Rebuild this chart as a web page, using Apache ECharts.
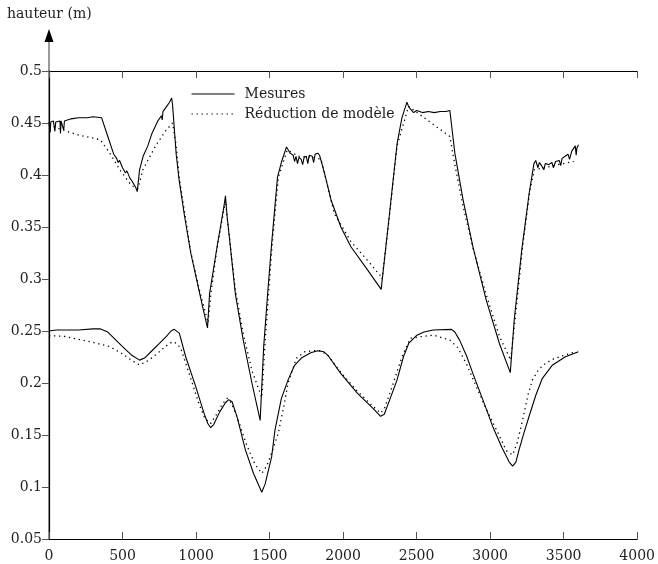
<!DOCTYPE html>
<html>
<head>
<meta charset="utf-8">
<script src="https://cdn.jsdelivr.net/npm/echarts@6/dist/echarts.min.js"></script>
<style>
  html, body { margin: 0; padding: 0; background: #fff; }
  #chartmain { width: 658px; height: 564px; }
</style>
</head>
<body>
<div id="chartmain"></div>
<script>
// axes
var xTicks = [0, 500, 1000, 1500, 2000, 2500, 3000, 3500, 4000];
var yMin = 0.05, yMax = 0.5, yStep = 0.05;
var legendNames = ['Mesures', 'Réduction de modèle'];

// courbe haute - mesures (temps, hauteur)
var mesHaut = [
  [0, 0.451], [8, 0.441], [12, 0.451], [30, 0.452], [40, 0.442], [46, 0.451], [75, 0.452],
  [78, 0.440], [82, 0.452], [95, 0.452], [100, 0.443], [105, 0.452], [115, 0.453], [150, 0.454],
  [200, 0.455], [260, 0.455], [300, 0.456], [358, 0.455],
  [400, 0.437], [440, 0.420], [460, 0.416], [470, 0.412], [480, 0.414], [500, 0.407],
  [520, 0.402], [530, 0.404], [550, 0.397], [565, 0.394], [575, 0.395], [590, 0.388], [600, 0.384],
  [616, 0.405], [640, 0.418], [672, 0.428], [700, 0.440], [740, 0.452], [765, 0.457], [770, 0.453],
  [775, 0.461], [800, 0.466], [820, 0.470], [834, 0.474], [840, 0.468],
  [865, 0.420], [885, 0.395], [920, 0.362], [964, 0.325], [1020, 0.289], [1050, 0.270], [1078, 0.253],
  [1092, 0.286], [1143, 0.331], [1190, 0.370], [1200, 0.380],
  [1210, 0.362], [1267, 0.286], [1320, 0.242], [1380, 0.200], [1436, 0.164],
  [1460, 0.235], [1487, 0.286], [1514, 0.334], [1554, 0.398], [1580, 0.412], [1615, 0.427],
  [1640, 0.421], [1660, 0.419], [1670, 0.413], [1680, 0.418], [1690, 0.411], [1700, 0.417],
  [1715, 0.415], [1725, 0.410], [1735, 0.417], [1750, 0.418], [1760, 0.411], [1770, 0.419],
  [1790, 0.418], [1800, 0.412], [1810, 0.420], [1828, 0.421], [1840, 0.419], [1851, 0.418],
  [1873, 0.402], [1918, 0.376], [1985, 0.350], [2053, 0.331], [2165, 0.309], [2259, 0.290],
  [2311, 0.357], [2367, 0.430], [2400, 0.455], [2434, 0.470], [2445, 0.466], [2460, 0.463],
  [2480, 0.460], [2500, 0.462], [2540, 0.460], [2580, 0.461], [2620, 0.460], [2660, 0.461],
  [2700, 0.461], [2726, 0.462],
  [2760, 0.421], [2816, 0.376], [2883, 0.331], [2973, 0.280], [3063, 0.238], [3137, 0.210],
  [3164, 0.261], [3215, 0.328], [3265, 0.382], [3298, 0.411], [3310, 0.414], [3325, 0.407],
  [3335, 0.412], [3350, 0.409], [3365, 0.405], [3375, 0.411], [3399, 0.410], [3420, 0.412],
  [3430, 0.407], [3445, 0.413], [3470, 0.414], [3480, 0.409], [3489, 0.416], [3510, 0.418],
  [3530, 0.420], [3540, 0.415], [3555, 0.423], [3579, 0.428], [3585, 0.419], [3590, 0.426],
  [3601, 0.429]
];

// courbe haute - réduction de modèle
var modHaut = [
  [0, 0.448], [122, 0.442], [212, 0.438], [347, 0.434], [414, 0.421], [481, 0.405], [560, 0.390],
  [605, 0.387], [638, 0.405], [729, 0.429], [796, 0.443], [840, 0.450], [863, 0.430], [885, 0.398],
  [964, 0.326], [1020, 0.291], [1082, 0.258], [1100, 0.285], [1143, 0.330], [1200, 0.375],
  [1215, 0.355], [1267, 0.290], [1320, 0.248], [1380, 0.212], [1447, 0.186], [1470, 0.240],
  [1495, 0.290], [1520, 0.337], [1560, 0.398], [1620, 0.424], [1700, 0.418], [1800, 0.417],
  [1850, 0.415], [1880, 0.398], [1940, 0.363], [2053, 0.336], [2165, 0.318], [2255, 0.303],
  [2265, 0.300], [2311, 0.355], [2367, 0.428], [2445, 0.466], [2726, 0.437], [2760, 0.410],
  [2816, 0.370], [2883, 0.330], [2973, 0.285], [3063, 0.245], [3140, 0.222], [3170, 0.262],
  [3220, 0.330], [3270, 0.385], [3300, 0.405], [3400, 0.408], [3500, 0.411], [3568, 0.413]
];

// courbe basse - mesures
var mesBas = [
  [0, 0.250], [50, 0.251], [100, 0.251], [200, 0.251], [300, 0.252], [350, 0.252], [400, 0.249],
  [450, 0.242], [500, 0.235], [560, 0.227], [616, 0.222], [650, 0.224], [700, 0.231], [751, 0.238],
  [800, 0.245], [830, 0.250], [852, 0.2516], [886, 0.248], [930, 0.225], [998, 0.1965],
  [1054, 0.171], [1080, 0.161], [1099, 0.157], [1120, 0.160], [1160, 0.172], [1200, 0.181],
  [1222, 0.184], [1245, 0.182], [1280, 0.167], [1335, 0.136], [1391, 0.113], [1447, 0.095],
  [1470, 0.103], [1514, 0.129], [1537, 0.155], [1580, 0.185], [1626, 0.203], [1670, 0.217],
  [1716, 0.224], [1780, 0.229], [1828, 0.231], [1870, 0.230], [1900, 0.226], [1985, 0.209],
  [2098, 0.190], [2200, 0.176], [2255, 0.168], [2280, 0.170], [2320, 0.185], [2367, 0.203],
  [2410, 0.225], [2446, 0.238], [2502, 0.246], [2550, 0.249], [2614, 0.251], [2737, 0.2516],
  [2760, 0.249], [2793, 0.241], [2840, 0.226], [2883, 0.209], [2950, 0.184], [3018, 0.158],
  [3080, 0.138], [3130, 0.124], [3153, 0.120], [3175, 0.124], [3197, 0.136], [3230, 0.152],
  [3265, 0.168], [3310, 0.188], [3355, 0.2045], [3422, 0.217], [3512, 0.2253], [3600, 0.230]
];

// courbe basse - réduction de modèle
var modBas = [
  [0, 0.2455], [100, 0.245], [234, 0.241], [300, 0.239], [414, 0.235], [500, 0.228], [560, 0.222],
  [616, 0.2173], [680, 0.222], [750, 0.230], [800, 0.236], [840, 0.2397], [870, 0.238],
  [897, 0.233], [953, 0.209], [1020, 0.180], [1060, 0.166], [1099, 0.161], [1140, 0.170],
  [1180, 0.180], [1211, 0.1853], [1240, 0.181], [1290, 0.163], [1340, 0.142], [1400, 0.122],
  [1447, 0.113], [1480, 0.120], [1520, 0.135], [1559, 0.1516], [1600, 0.180], [1626, 0.200],
  [1682, 0.2237], [1739, 0.2301], [1800, 0.231], [1850, 0.231], [1900, 0.226], [1985, 0.210],
  [2098, 0.192], [2200, 0.178], [2255, 0.171], [2280, 0.175], [2330, 0.195], [2400, 0.225],
  [2457, 0.243], [2550, 0.245], [2614, 0.246], [2726, 0.2413], [2780, 0.234], [2840, 0.218],
  [2883, 0.204], [2970, 0.176], [3050, 0.153], [3110, 0.135], [3153, 0.1308], [3185, 0.143],
  [3220, 0.164], [3260, 0.190], [3288, 0.203], [3330, 0.213], [3377, 0.219], [3430, 0.223],
  [3489, 0.226], [3579, 0.230]
];

var FONT = 'DejaVu Serif';
var solidStyle = { color: '#000', width: 1.1, type: 'solid' };
var dotStyle = { color: '#000', width: 1.3, type: [1.3, 3.7] };

var mkSeries = function(name, data, style){
  return {
    name: name,
    type: 'line',
    data: data,
    symbol: 'none',
    showSymbol: false,
    silent: true,
    color: '#000',
    lineStyle: style
  };
};

var chart = echarts.init(document.getElementById('chartmain'), null, { renderer: 'canvas' });

var option = {
  animation: false,
  backgroundColor: '#fff',
  textStyle: { fontFamily: FONT },
  grid: { left: 49, right: 15, top: 71, bottom: 25 },
  legend: {
    data: legendNames,
    orient: 'vertical',
    left: 191,
    top: 87,
    padding: 0,
    itemWidth: 43,
    itemHeight: 14,
    itemGap: 6,
    itemStyle: { opacity: 0 },
    lineStyle: { width: 1.1 },
    textStyle: { fontFamily: FONT, fontSize: 14, color: '#222', padding: [0, 0, 0, 5] },
    selectedMode: false
  },
  xAxis: [
    {
      type: 'value', min: xTicks[0], max: xTicks[xTicks.length - 1], interval: 500,
      position: 'bottom',
      splitLine: { show: false },
      axisLine: { lineStyle: { color: '#000', width: 1.2 } },
      axisTick: { inside: true, length: 7, lineStyle: { color: '#555' } },
      axisLabel: {
        margin: 10, fontFamily: FONT, fontSize: 14, color: '#222', showMaxLabel: true,
        formatter: function(v){ return String(v); }
      }
    },
    {
      type: 'value', min: xTicks[0], max: xTicks[xTicks.length - 1], interval: 500,
      position: 'top',
      splitLine: { show: false },
      axisLine: { lineStyle: { color: '#000', width: 1.2 } },
      axisTick: { inside: true, length: 7, lineStyle: { color: '#555' } },
      axisLabel: { show: false }
    }
  ],
  yAxis: [
    {
      type: 'value', min: yMin, max: yMax, interval: yStep,
      position: 'left',
      splitLine: { show: false },
      axisLine: { show: true, lineStyle: { color: '#777', width: 1.5 } },
      axisTick: { show: false },
      axisLabel: { margin: 7, fontFamily: FONT, fontSize: 14, color: '#222' }
    },
    {
      type: 'value', min: yMin, max: yMax, interval: yStep,
      position: 'right',
      splitLine: { show: false },
      axisLine: { show: true, lineStyle: { color: '#000', width: 1.2 } },
      axisTick: { show: true, inside: true, length: 7, lineStyle: { color: '#555' } },
      axisLabel: { show: false }
    }
  ],
  graphic: [
    // prolongement de l'axe vertical + flèche
    { type: 'line', shape: { x1: 49, y1: 71, x2: 49, y2: 40 }, style: { stroke: '#777', lineWidth: 1.5 } },
    { type: 'polygon', shape: { points: [[44.5, 42], [53.5, 42], [49, 29]] }, style: { fill: '#000' } },
    { type: 'text', left: 7, top: 7, style: { text: 'hauteur (m)', font: '14px "DejaVu Serif"', fill: '#222' } }
  ],
  series: [
    mkSeries(legendNames[0], mesHaut, solidStyle),
    mkSeries(legendNames[1], modHaut, dotStyle),
    mkSeries(legendNames[0], mesBas, solidStyle),
    mkSeries(legendNames[1], modBas, dotStyle)
  ]
};

chart.setOption(option);
</script>
</body>
</html>
